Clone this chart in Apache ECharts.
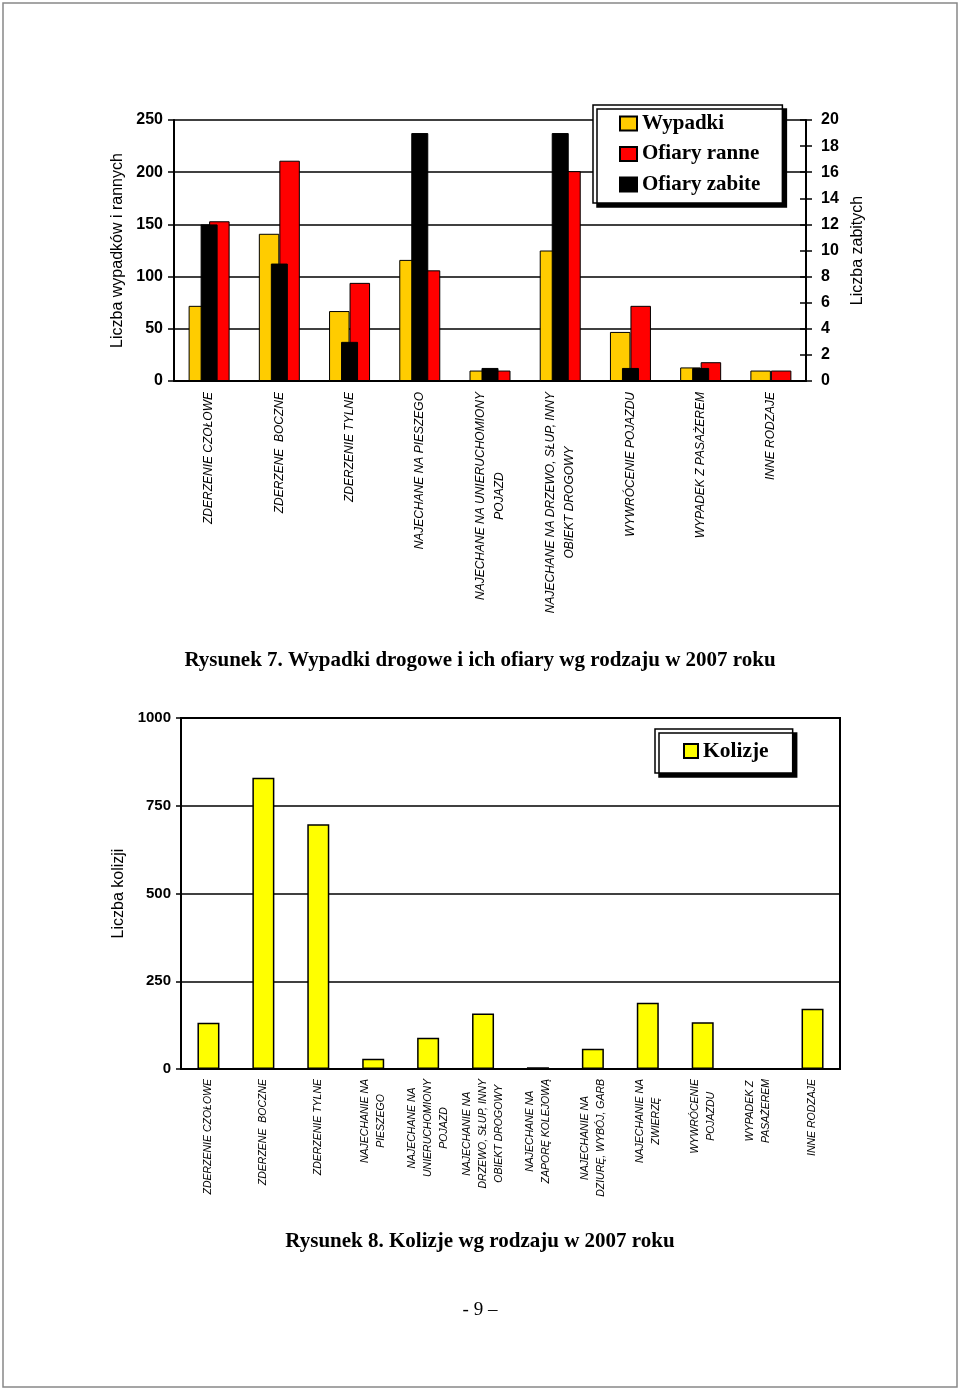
<!DOCTYPE html>
<html><head><meta charset="utf-8">
<script src="https://cdn.jsdelivr.net/npm/echarts@6/dist/echarts.min.js"></script>
<style>html,body{margin:0;padding:0;background:#fff}#c{width:960px;height:1390px}</style>
</head><body><div id="c"></div>
<script>
// ---- Chart 1 data (Rysunek 7) ----
const categories1 = [
  'ZDERZENIE CZOŁOWE',
  'ZDERZENE  BOCZNE',
  'ZDERZENIE TYLNE',
  'NAJECHANE NA PIESZEGO',
  'NAJECHANE NA UNIERUCHOMIONY\nPOJAZD',
  'NAJECHANE NA DRZEWO, SŁUP, INNY\nOBIEKT DROGOWY',
  'WYWRÓCENIE POJAZDU',
  'WYPADEK Z PASAŻEREM',
  'INNE RODZAJE'
];
const wypadki      = [72, 141, 67, 116, 10, 125, 47, 13, 10];
const ofiaryRanne  = [153, 211, 94, 106, 10, 201, 72, 18, 10];
const ofiaryZabite = [12, 9, 3, 19, 1, 19, 1, 1, 0];
const leftAxis1  = {min: 0, max: 250, interval: 50};
const rightAxis1 = {min: 0, max: 20, interval: 2};

// ---- Chart 2 data (Rysunek 8) ----
const categories2 = [
  'ZDERZENIE CZOŁOWE',
  'ZDERZENE  BOCZNE',
  'ZDERZENIE TYLNE',
  'NAJECHANIE NA\nPIESZEGO',
  'NAJECHANE NA\nUNIERUCHOMIONY\nPOJAZD',
  'NAJECHANIE NA\nDRZEWO, SŁUP, INNY\nOBIEKT DROGOWY',
  'NAJECHANE NA\nZAPORĘ KOLEJOWĄ',
  'NAJECHANIE NA\nDZIURĘ, WYBÓJ, GARB',
  'NAJECHANIE NA\nZWIERZĘ',
  'WYWRÓCENIE\nPOJAZDU',
  'WYPADEK Z\nPASAŻEREM',
  'INNE RODZAJE'
];
const kolizje = [132, 830, 697, 29, 89, 158, 5, 58, 189, 133, 0, 172];
const leftAxis2 = {min: 0, max: 1000, interval: 250};

const SANS = 'Liberation Sans, Arial, sans-serif';
const SERIF = 'Liberation Serif, Times New Roman, serif';
const richLabel = (v) => v.split('\n').map(l => '{c|' + l + '}').join('\n');
const plainNum = (v) => String(v);

const chart = echarts.init(document.getElementById('c'), null, {renderer: 'canvas'});
const tickLabel = {fontFamily: SANS, fontWeight: 'bold', fontSize: 16, color: '#000', formatter: plainNum};
const axisNameStyle = {fontFamily: SANS, fontSize: 16, color: '#000'};
const lineStyle = {color: '#000', width: 2};

chart.setOption({
  animation: false,
  backgroundColor: '#fff',
  graphic: [{
    type: 'rect', shape: {x: 3, y: 3, width: 954, height: 1384},
    style: {fill: 'none', stroke: '#888', lineWidth: 1.5}, z: -10
  }],
  title: [
    {text: 'Rysunek 7. Wypadki drogowe i ich ofiary wg rodzaju w 2007 roku', left: 'center', top: 645,
     textStyle: {fontFamily: SERIF, fontSize: 21, fontWeight: 'bold', color: '#000'}},
    {text: 'Rysunek 8. Kolizje wg rodzaju w 2007 roku', left: 'center', top: 1226,
     textStyle: {fontFamily: SERIF, fontSize: 21, fontWeight: 'bold', color: '#000'}},
    {text: '- 9 –', left: 'center', top: 1296,
     textStyle: {fontFamily: SERIF, fontSize: 19, fontWeight: 'normal', color: '#000'}}
  ],
  legend: [
    {data: ['Wypadki', 'Ofiary ranne', 'Ofiary zabite'], orient: 'vertical',
     left: 593, top: 105, padding: [8, 22, 8, 26], itemGap: 9.5, itemWidth: 17, itemHeight: 14,
     icon: 'rect', backgroundColor: '#fff', borderColor: '#000', borderWidth: 1.5,
     shadowColor: '#000', shadowOffsetX: 4, shadowOffsetY: 4, shadowBlur: 0.01,
     textStyle: {fontFamily: SERIF, fontWeight: 'bold', fontSize: 21, lineHeight: 20, color: '#000'}},
    {data: ['Kolizje'], orient: 'vertical',
     left: 655, top: 729, padding: [11, 24, 11, 28], itemWidth: 14, itemHeight: 14,
     icon: 'rect', backgroundColor: '#fff', borderColor: '#000', borderWidth: 1.5,
     shadowColor: '#000', shadowOffsetX: 4, shadowOffsetY: 4, shadowBlur: 0.01,
     textStyle: {fontFamily: SERIF, fontWeight: 'bold', fontSize: 21.5, lineHeight: 20, color: '#000'}}
  ],
  grid: [
    {left: 174, top: 120, width: 632, height: 261},
    {left: 181, top: 718, width: 659, height: 351, show: true, borderColor: '#000', borderWidth: 2}
  ],
  xAxis: [
    {type: 'category', gridIndex: 0, data: categories1, position: 'bottom',
     axisLine: {lineStyle: lineStyle}, axisTick: {length: 5, lineStyle: {color: '#000', width: 1.5}},
     axisLabel: {interval: 0, rotate: 90, margin: 11, formatter: richLabel,
       rich: {c: {fontFamily: SANS, fontStyle: 'italic', fontSize: 12, lineHeight: 19, color: '#000', align: 'center'}}}},
    {type: 'category', gridIndex: 0, data: categories1, position: 'bottom', show: false},
    {type: 'category', gridIndex: 1, data: categories2, position: 'bottom',
     axisLine: {lineStyle: lineStyle}, axisTick: {length: 5, lineStyle: {color: '#000', width: 1.5}},
     axisLabel: {interval: 0, rotate: 90, margin: 10, formatter: richLabel,
       rich: {c: {fontFamily: SANS, fontStyle: 'italic', fontSize: 10.5, lineHeight: 16, color: '#000', align: 'center'}}}}
  ],
  yAxis: [
    {type: 'value', gridIndex: 0, position: 'left', min: leftAxis1.min, max: leftAxis1.max, interval: leftAxis1.interval,
     name: 'Liczba wypadków i rannych', nameLocation: 'middle', nameRotate: 90, nameGap: 40, nameTextStyle: axisNameStyle,
     axisLine: {show: true, lineStyle: lineStyle}, axisTick: {show: true, length: 6, lineStyle: {color: '#000', width: 1.5}},
     axisLabel: Object.assign({margin: 11}, tickLabel),
     splitLine: {show: true, lineStyle: {color: '#000', width: 1.5}}},
    {type: 'value', gridIndex: 0, position: 'right', min: rightAxis1.min, max: rightAxis1.max, interval: rightAxis1.interval,
     name: 'Liczba zabitych', nameLocation: 'middle', nameRotate: 90, nameGap: 39, nameTextStyle: axisNameStyle,
     axisLine: {show: true, lineStyle: lineStyle}, axisTick: {show: true, length: 6, lineStyle: {color: '#000', width: 1.5}},
     axisLabel: Object.assign({margin: 15}, tickLabel), splitLine: {show: false}},
    {type: 'value', gridIndex: 0, position: 'right', min: rightAxis1.min, max: rightAxis1.max, interval: rightAxis1.interval,
     axisLine: {show: false}, axisTick: {show: true, inside: true, length: 6, lineStyle: {color: '#000', width: 1.5}},
     axisLabel: {show: false}, splitLine: {show: false}},
    {type: 'value', gridIndex: 1, position: 'left', min: leftAxis2.min, max: leftAxis2.max, interval: leftAxis2.interval,
     name: 'Liczba kolizji', nameLocation: 'middle', nameRotate: 90, nameGap: 49, nameTextStyle: axisNameStyle,
     axisLine: {show: true, lineStyle: lineStyle}, axisTick: {show: true, length: 5, lineStyle: {color: '#000', width: 1.5}},
     axisLabel: Object.assign({margin: 10}, tickLabel, {fontSize: 15}),
     splitLine: {show: true, lineStyle: {color: '#000', width: 1.5}}}
  ],
  series: [
    {name: 'Wypadki', type: 'bar', xAxisIndex: 0, yAxisIndex: 0, data: wypadki, barWidth: 20.5, barGap: '0%',
     itemStyle: {color: '#FFCC00', borderColor: '#000', borderWidth: 1}},
    {name: 'Ofiary ranne', type: 'bar', xAxisIndex: 0, yAxisIndex: 0, data: ofiaryRanne, barWidth: 20.5, barGap: '0%',
     itemStyle: {color: '#FF0000', borderColor: '#000', borderWidth: 1}},
    {name: 'Ofiary zabite', type: 'bar', xAxisIndex: 1, yAxisIndex: 1, data: ofiaryZabite, barWidth: 17,
     itemStyle: {color: '#000', borderColor: '#000', borderWidth: 1}},
    {name: 'Kolizje', type: 'bar', xAxisIndex: 2, yAxisIndex: 3, data: kolizje, barWidth: 22,
     itemStyle: {color: '#FFFF00', borderColor: '#000', borderWidth: 1.5}}
  ]
});
</script></body></html>
